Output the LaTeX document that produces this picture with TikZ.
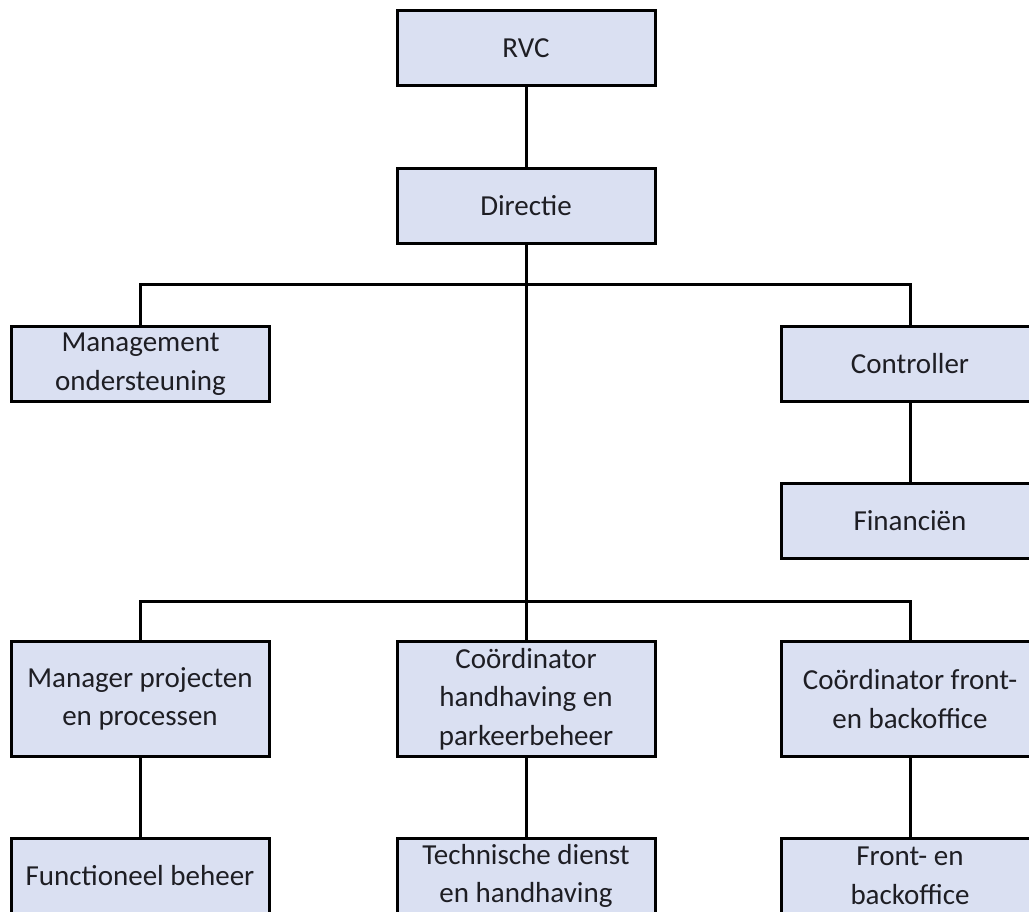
\documentclass[tikz,border=0pt]{standalone}
\usepackage{fontspec}
\setmainfont{Carlito}
\definecolor{boxfill}{RGB}{218,224,242}
\definecolor{textcol}{RGB}{30,30,36}
\begin{document}
\begin{tikzpicture}[x=1pt,y=-1pt,
  box/.style={draw=black, line width=3pt, fill=boxfill, text=textcol, align=center,
    minimum width=258pt, inner sep=0pt, font=\fontsize{29}{38.5}\selectfont},
  lowbox/.style={box, minimum height=75pt},
  tallbox/.style={box, minimum height=115pt},
  conn/.style={draw=black, line width=3pt}]
\useasboundingbox (0,0) rectangle (1029,912);
\clip (0,0) rectangle (1029,912);
\fill[white] (0,0) rectangle (1029,912);
\node[lowbox] (rvc) at (526,48) {RVC};
\node[lowbox] (dir) at (526,206) {Directie};
\node[lowbox] (mgmt) at (140.5,364) {Management\\ondersteuning};
\node[lowbox] (ctrl) at (910,364) {Controller};
\node[lowbox] (fin) at (910,521) {Financiën};
\node[tallbox] (mpp) at (140,699) {Manager projecten\\en processen};
\node[tallbox] (chp) at (526,699) {Coördinator\\handhaving en\\parkeerbeheer};
\node[tallbox] (cfb) at (910,699) {Coördinator front-\\en backoffice};
\node[lowbox] (fb) at (140,876) {Functioneel beheer};
\node[lowbox] (tdh) at (526,876) {Technische dienst\\en handhaving};
\node[lowbox] (fbo) at (910,876) {Front- en\\backoffice};
\coordinate (b1) at (526,285);
\coordinate (b2) at (526,601);
\draw[conn] (rvc.south) -- (dir.north);
\draw[conn] (dir.south) -- (chp.north);
\draw[conn] (mgmt.north) |- (b1) -| (ctrl.north);
\draw[conn] (mpp.north) |- (b2) -| (cfb.north);
\draw[conn] (ctrl.south) -- (fin.north);
\draw[conn] (mpp.south) -- (fb.north);
\draw[conn] (chp.south) -- (tdh.north);
\draw[conn] (cfb.south) -- (fbo.north);
\end{tikzpicture}
\end{document}
